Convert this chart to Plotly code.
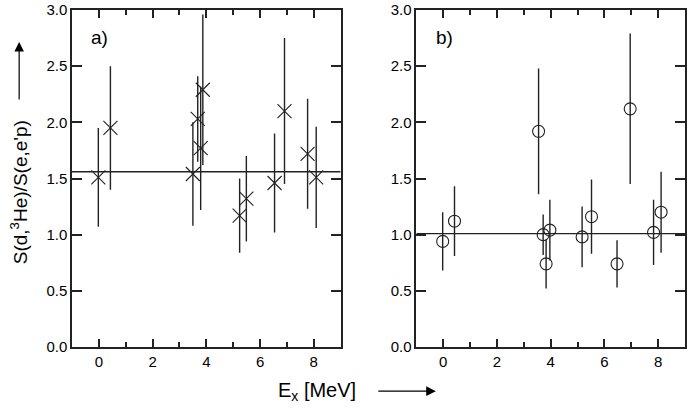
import plotly.graph_objects as go
from plotly.subplots import make_subplots

# panel a) : crosses
ex_a = [-0.02, 0.43, 3.50, 3.68, 3.79, 3.87, 5.24, 5.49, 6.54, 6.91, 7.77, 8.09]
ratio_a = [1.51, 1.95, 1.54, 2.03, 1.77, 2.29, 1.17, 1.32, 1.46, 2.10, 1.72, 1.51]
err_a = [0.44, 0.55, 0.46, 0.38, 0.55, 0.67, 0.33, 0.38, 0.44, 0.65, 0.49, 0.45]
fit_a = 1.56

# panel b) : circles
ex_b = [-0.02, 0.42, 3.55, 3.72, 3.83, 3.97, 5.17, 5.52, 6.47, 6.96, 7.83, 8.11]
ratio_b = [0.94, 1.12, 1.92, 1.00, 0.74, 1.04, 0.98, 1.16, 0.74, 2.12, 1.02, 1.20]
err_b = [0.26, 0.31, 0.56, 0.18, 0.22, 0.27, 0.27, 0.33, 0.21, 0.67, 0.29, 0.36]
fit_b = 1.01

xrange_ = [-1, 9]
col = "#222222"
font = "Liberation Sans, Arial, sans-serif"

fig = make_subplots(rows=1, cols=2, horizontal_spacing=0.1235)

fig.add_trace(go.Scatter(x=xrange_, y=[fit_a, fit_a], mode="lines",
                         line=dict(color=col, width=1.3)), row=1, col=1)
fig.add_trace(go.Scatter(x=ex_a, y=ratio_a, mode="markers",
                         marker=dict(symbol="x-thin-open", size=14, color=col,
                                     line=dict(color="#444444", width=1.1)),
                         error_y=dict(type="data", array=err_a, width=0,
                                      thickness=1.4, color=col)), row=1, col=1)

fig.add_trace(go.Scatter(x=xrange_, y=[fit_b, fit_b], mode="lines",
                         line=dict(color=col, width=1.3)), row=1, col=2)
fig.add_trace(go.Scatter(x=ex_b, y=ratio_b, mode="markers",
                         marker=dict(symbol="circle-open", size=12, color=col,
                                     line=dict(color=col, width=1.1)),
                         error_y=dict(type="data", array=err_b, width=0,
                                      thickness=1.4, color=col)), row=1, col=2)

fig.update_xaxes(range=xrange_, dtick=2, tick0=0, ticks="inside", ticklen=8,
                 tickwidth=1.5, tickcolor=col, showline=True, linecolor=col,
                 linewidth=1.5, mirror="ticks", showgrid=False, zeroline=False,
                 minor=dict(dtick=1, ticks="inside", ticklen=5, tickcolor=col,
                            tickwidth=1.5, showgrid=False),
                 tickfont=dict(size=15, color="black", family=font))
fig.update_yaxes(range=[0, 3], dtick=0.5, tickformat=".1f", ticks="inside",
                 ticklen=10, tickwidth=1.5, tickcolor=col, showline=True,
                 linecolor=col, linewidth=1.5, mirror="ticks", showgrid=False,
                 zeroline=False, tickfont=dict(size=15, color="black", family=font))

fig.add_annotation(text="a)", xref="paper", yref="paper", x=0.027, y=0.918,
                   xanchor="left", yanchor="middle", showarrow=False,
                   font=dict(size=19, color="black", family=font))
fig.add_annotation(text="b)", xref="paper", yref="paper", x=0.59, y=0.918,
                   xanchor="left", yanchor="middle", showarrow=False,
                   font=dict(size=19, color="black", family=font))

# axis titles with arrows
fig.add_annotation(text="S(d,<sup>3</sup>He)/S(e,e'p)", xref="paper", yref="paper",
                   x=-0.086, y=0.46, xanchor="center", yanchor="middle",
                   textangle=-90, showarrow=False,
                   font=dict(size=19, color="black", family=font))
fig.add_annotation(text="", xref="paper", yref="paper", x=-0.0862, y=0.905,
                   ax=0, ay=59, showarrow=True, arrowhead=2, arrowsize=1.6,
                   arrowwidth=1.2, arrowcolor="black")
fig.add_annotation(text="E<sub>x</sub> [MeV]", xref="paper", yref="paper",
                   x=0.4, y=-0.133, xanchor="center", yanchor="middle",
                   showarrow=False, font=dict(size=20, color="black", family=font))
fig.add_annotation(text="", xref="paper", yref="paper", x=0.5935, y=-0.131,
                   ax=-59, ay=0, showarrow=True, arrowhead=2, arrowsize=1.6,
                   arrowwidth=1.2, arrowcolor="black")

fig.update_layout(width=688, height=408, showlegend=False,
                  margin=dict(l=72, r=1, t=9, b=61),
                  plot_bgcolor="white", paper_bgcolor="white")

# drop the default 8px body margin so the figure fills the window
fig.write_html("out.html", config={"displayModeBar": False},
               post_script="document.body.style.margin='0px';")
